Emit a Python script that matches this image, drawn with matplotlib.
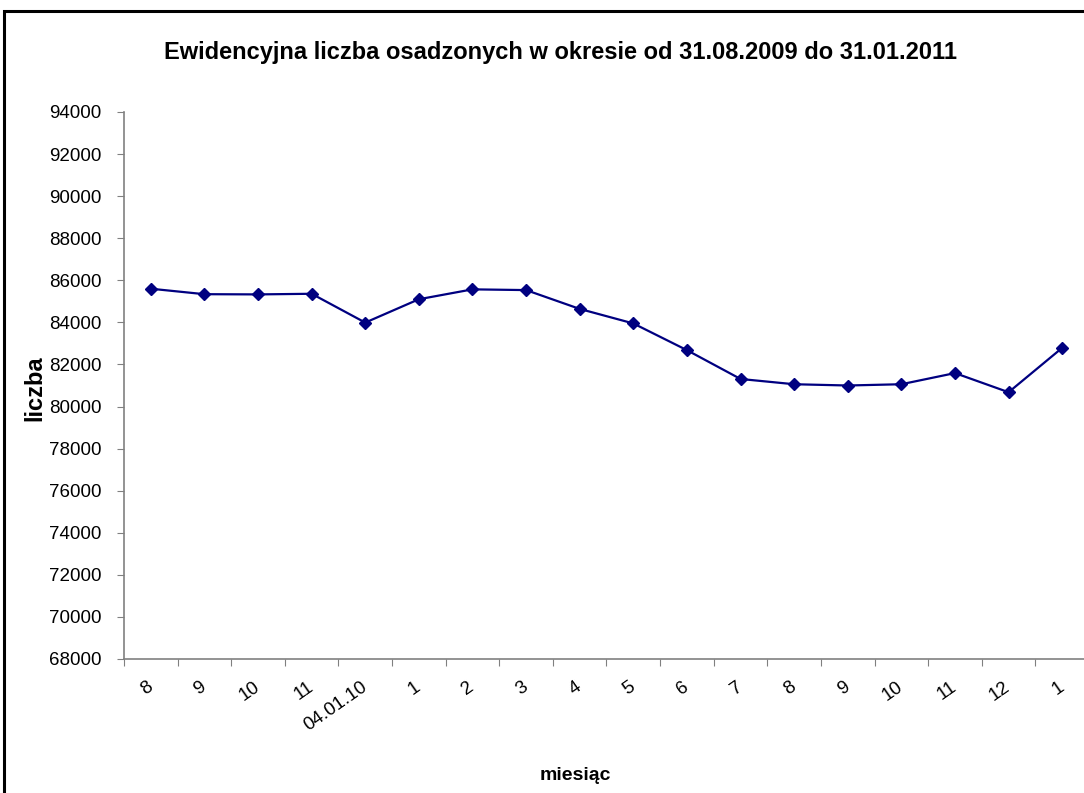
import matplotlib.pyplot as plt
from matplotlib.patches import Rectangle

plt.rcParams['font.family'] = ['Liberation Sans', 'DejaVu Sans']

# months from 31.08.2009 to 31.01.2011
months = ['8', '9', '10', '11', '04.01.10', '1', '2', '3', '4', '5',
          '6', '7', '8', '9', '10', '11', '12', '1']
prisoners = [85600, 85340, 85330, 85360, 83990, 85100, 85570, 85535, 84640,
             83950, 82680, 81310, 81060, 81000, 81060, 81590, 80680, 82790]

W, H = 1084, 793
fig = plt.figure(figsize=(W / 100, H / 100), dpi=100)

# outer chart frame (cropped at right and bottom like the original)
fig.patches.append(Rectangle((4 / W, -0.1), 1.2, 1.1 - 11 / H, transform=fig.transFigure,
                             fill=False, edgecolor='black', linewidth=2.2))

ax = fig.add_axes([124 / W, 1 - 659 / H, 965 / W, 547 / H])

xs = [i + 0.5 for i in range(len(months))]
ax.plot(xs, prisoners, color='#000080', linewidth=1.6, marker='D', markersize=6.5,
        markerfacecolor='#000080', markeredgecolor='#000080')

ax.set_xlim(0, len(months))
ax.set_ylim(68000, 94000)
ax.set_yticks(range(68000, 94001, 2000))

# tick marks at category boundaries, labels at category centres
ax.set_xticks(range(len(months) + 1))
ax.set_xticklabels([])
ax.set_xticks(xs, minor=True)
ax.set_xticklabels(months, minor=True, rotation=35, ha='right', va='center',
                   rotation_mode='anchor', fontsize=13.5)
ax.tick_params(axis='x', which='major', direction='out', length=5, color='#808080')
ax.tick_params(axis='x', which='minor', length=0, pad=19)
ax.tick_params(axis='y', direction='out', length=5, color='#808080', pad=11, labelsize=13.5)

for s in ['top', 'right']:
    ax.spines[s].set_visible(False)
for s in ['left', 'bottom']:
    ax.spines[s].set_color('#808080')
    ax.spines[s].set_linewidth(1.2)

fig.text(561 / W, 1 - 52 / H, 'Ewidencyjna liczba osadzonych w okresie od 31.08.2009 do 31.01.2011',
         ha='center', va='center', fontsize=17, fontweight='bold')
fig.text(35 / W, 1 - 388 / H, 'liczba', rotation=90, ha='center', va='center',
         fontsize=17, fontweight='bold')
fig.text(575 / W, 1 - 775 / H, 'miesiąc', ha='center', va='center',
         fontsize=14, fontweight='bold')

fig.savefig('out.png', dpi=100)
